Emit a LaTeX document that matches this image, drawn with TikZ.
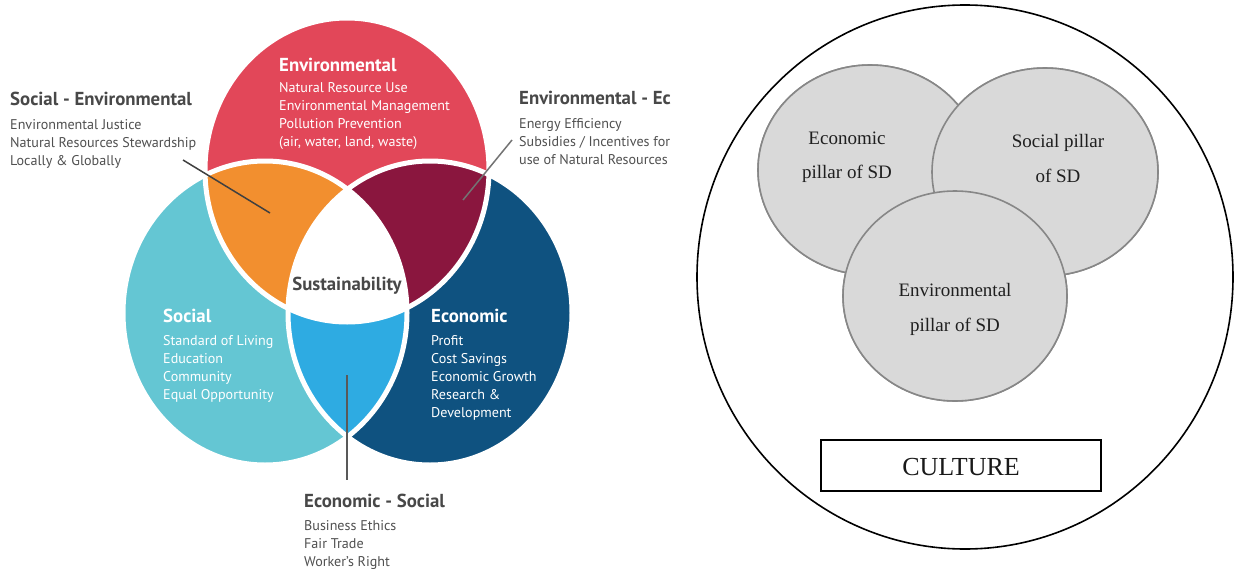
\documentclass[tikz,border=0pt]{standalone}
\usepackage{fontspec}
\setmainfont{Liberation Serif}
\newfontfamily\venn{PT Sans}
\definecolor{envred}{RGB}{226,71,89}
\definecolor{soccyan}{RGB}{100,198,211}
\definecolor{ecoblue}{RGB}{15,82,128}
\definecolor{seorange}{RGB}{242,143,47}
\definecolor{eemaroon}{RGB}{138,22,62}
\definecolor{essky}{RGB}{46,171,226}
\definecolor{ttlgray}{RGB}{72,72,72}
\definecolor{itmgray}{RGB}{80,80,80}
\definecolor{pillfill}{RGB}{217,217,217}
\definecolor{pillline}{RGB}{135,135,135}
\begin{document}
\begin{tikzpicture}[x=1pt,y=-1pt,
  ttl/.style={anchor=base west,inner sep=0pt,font=\venn\fontsize{18.8}{20}\selectfont\bfseries,text=ttlgray},
  itm/.style={anchor=base west,inner sep=0pt,font=\venn\fontsize{14.1}{18}\selectfont,text=itmgray},
  wttl/.style={ttl,text=white},
  witm/.style={itm,text=white},
  conn/.style={line width=1.5pt,draw=ttlgray},
  pill/.style={fill=pillfill,draw=pillline,line width=1.6pt},
  ptxt/.style={anchor=base,inner sep=0pt,font=\fontsize{19}{22}\selectfont,text=black!88}]
\useasboundingbox (0,0) rectangle (1235,570);
\fill[white] (0,0) rectangle (1235,570);

% ---------- left Venn ----------
\fill[soccyan] (265,313) ellipse [x radius=142pt, y radius=152pt];
\fill[ecoblue] (430,313) ellipse [x radius=142pt, y radius=152pt];
\fill[envred] (347,170) ellipse [x radius=142pt, y radius=152pt];
\begin{scope}
  \clip (265,313) ellipse [x radius=142pt, y radius=152pt];
  \fill[seorange] (347,170) ellipse [x radius=142pt, y radius=152pt];
\end{scope}
\begin{scope}
  \clip (430,313) ellipse [x radius=142pt, y radius=152pt];
  \fill[eemaroon] (347,170) ellipse [x radius=142pt, y radius=152pt];
\end{scope}
\begin{scope}
  \clip (265,313) ellipse [x radius=142pt, y radius=152pt];
  \fill[essky] (430,313) ellipse [x radius=142pt, y radius=152pt];
  \clip (430,313) ellipse [x radius=142pt, y radius=152pt];
  \fill[white] (347,170) ellipse [x radius=142pt, y radius=152pt];
\end{scope}
\draw[white,line width=5pt] (265,313) ellipse [x radius=142pt, y radius=152pt];
\draw[white,line width=5pt] (430,313) ellipse [x radius=142pt, y radius=152pt];
\draw[white,line width=5pt] (347,170) ellipse [x radius=142pt, y radius=152pt];

% connectors
\coordinate (seA) at (183,160);
\coordinate (seB) at (270,213);
\coordinate (eeA) at (463,200);
\coordinate (eeB) at (512,140);
\coordinate (esA) at (347,375);
\coordinate (esB) at (347,480);
\draw[conn,draw=black!75] (seA) -- (seB);
\draw[conn,draw=black!55] (eeA) -- (eeB);
\draw[conn,draw=black!65] (esA) -- (esB);

% texts
\node[ttl] (seT) at (10,105) {Social - Environmental};
\foreach \t [count=\i] in {Environmental Justice,Natural Resources Stewardship,Locally \& Globally}
  \node[itm] (se\i) at (10,{129+18*(\i-1)}) {\t};

\node[wttl] (envT) at (279,71) {Environmental};
\foreach \t [count=\i] in {Natural Resource Use,Environmental Management,Pollution Prevention,{(air, water, land, waste)}}
  \node[witm] (env\i) at (279,{92+18*(\i-1)}) {\t};

\node[ttl] (eeT) at (519,104) {Environmental - Ec};
\foreach \t [count=\i] in {Energy Efficiency,Subsidies / Incentives for,use of Natural Resources}
  \node[itm] (ee\i) at (519,{128+18*(\i-1)}) {\t};

\node[ttl,anchor=base] (sus) at (347,290) {Sustainability};

\node[wttl] (socT) at (163,322) {Social};
\foreach \t [count=\i] in {Standard of Living,Education,Community,Equal Opportunity}
  \node[witm] (soc\i) at (163,{345+18*(\i-1)}) {\t};

\node[wttl] (ecoT) at (431,322) {Economic};
\foreach \t [count=\i] in {Profit,Cost Savings,Economic Growth,Research \&,Development}
  \node[witm] (eco\i) at (431,{345+18*(\i-1)}) {\t};

\node[ttl] (esT) at (304,507) {Economic - Social};
\foreach \t [count=\i] in {Business Ethics,Fair Trade,Worker’s Right}
  \node[itm] (es\i) at (304,{530+18*(\i-1)}) {\t};

% ---------- right panel ----------
\draw[black,line width=1.6pt] (965,277) ellipse [x radius=268pt, y radius=272pt];
\fill[pill] (870,170) ellipse [x radius=112pt, y radius=105pt];
\fill[pill] (1045,172) ellipse [x radius=113pt, y radius=104pt];
\fill[pill] (955,296) ellipse [x radius=112pt, y radius=105pt];
\draw[pill] (870,170) ellipse [x radius=112pt, y radius=105pt];
\draw[pill] (1045,172) ellipse [x radius=113pt, y radius=104pt];
\draw[pill] (955,296) ellipse [x radius=112pt, y radius=105pt];

\node[ptxt] (pe1) at (847,144) {Economic};
\node[ptxt] (pe2) at (847,178) {pillar of SD};
\node[ptxt] (ps1) at (1058,147) {Social pillar};
\node[ptxt] (ps2) at (1058,182) {of SD};
\node[ptxt] (pv1) at (955,296) {Environmental};
\node[ptxt] (pv2) at (955,331) {pillar of SD};

\node[draw=black,line width=1.2pt,minimum width=280pt,minimum height=51pt,inner sep=0pt] (cult) at (961,465.5) {};
\node[anchor=base,inner sep=0pt,font=\fontsize{26}{30}\selectfont,text=black!90] (cultT) at (961,475) {CULTURE};
\end{tikzpicture}
\end{document}
